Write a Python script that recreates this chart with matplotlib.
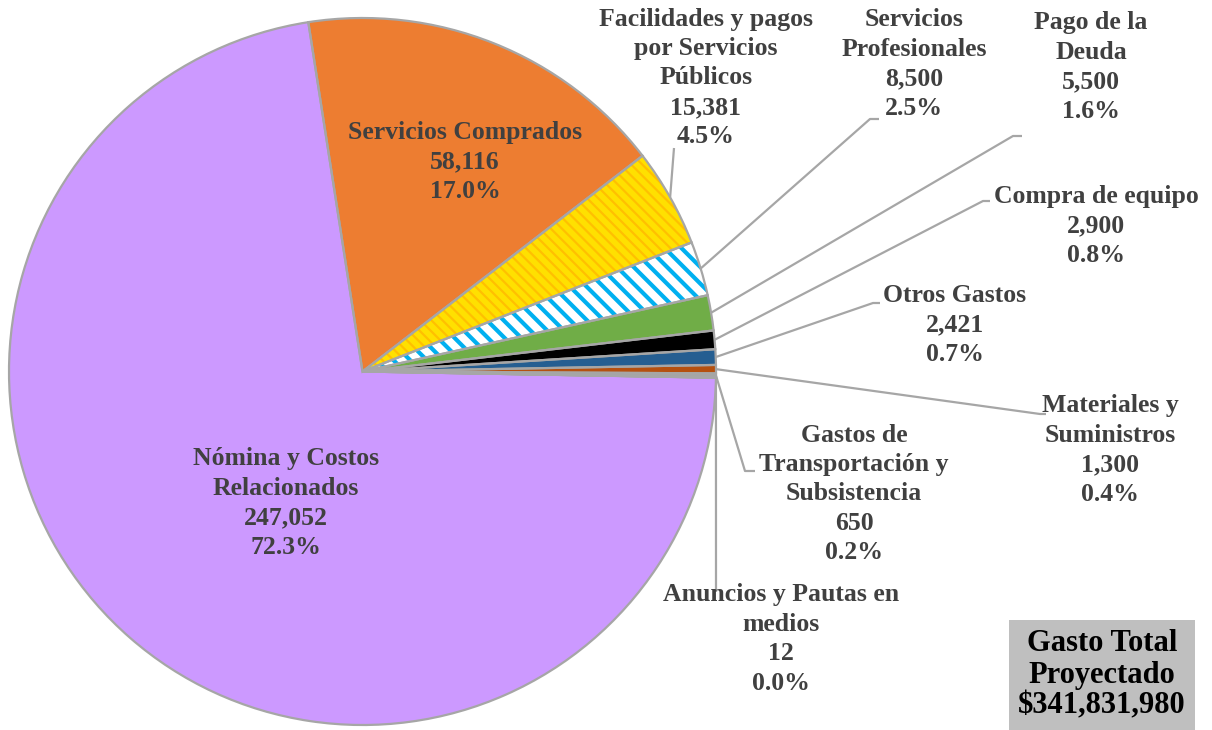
import matplotlib
matplotlib.use("Agg")
import matplotlib.pyplot as plt
import numpy as np

# ---------------- data ----------------
categories = [
    "Nómina y Costos\nRelacionados",
    "Servicios Comprados",
    "Facilidades y pagos\npor Servicios\nPúblicos",
    "Servicios\nProfesionales",
    "Pago de la\nDeuda",
    "Compra de equipo",
    "Otros Gastos",
    "Materiales y\nSuministros",
    "Gastos de\nTransportación y\nSubsistencia",
    "Anuncios y Pautas en\nmedios",
]
values = [247052, 58116, 15381, 8500, 5500, 2900, 2421, 1300, 650, 12]
total_label = "Gasto Total\nProyectado\n$341,831,980"

# ---------------- styles ----------------
face_colors = ["#CC99FF", "#ED7D31", "#FFE000", "#FFFFFF", "#70AD47",
               "#000000", "#255E91", "#B5500F", "#A5A5A5", "#7F7F7F"]
hatch_styles = [None, None, "\\\\\\", "\\\\", None, None, None, None, None, None]
hatch_colors = [None, None, "#FFC000", "#00B0F0", None, None, None, None, None, None]
hatch_widths = [None, None, 1.6, 3.0, None, None, None, None, None, None]

W, H = 1212, 730
fig = plt.figure(figsize=(W / 100, H / 100), dpi=100)
ax = fig.add_axes([0, 0, 1, 1])

def P(x, y):
    return (x, H - y)

center = P(362.5, 371.5)
radius = 353.5
startangle = 359.0

# fill layer (with hatches)
wedges, _ = ax.pie(values, colors=face_colors, startangle=startangle, counterclock=False,
                   center=center, radius=radius, wedgeprops=dict(linewidth=0))
for w, h, hc, hw in zip(wedges, hatch_styles, hatch_colors, hatch_widths):
    if h:
        w.set_hatch(h)
        w.set_edgecolor(hc)
        if hasattr(w, "set_hatch_linewidth"):
            w.set_hatch_linewidth(hw)
        else:
            w._hatch_linewidth = hw
    else:
        w.set_edgecolor(w.get_facecolor())

# outline layer
ax.pie(values, startangle=startangle, counterclock=False, center=center, radius=radius,
       wedgeprops=dict(fill=False, edgecolor="#A6A6A6", linewidth=1.6))

total = sum(values)
label_pos = [(286, 503), (465, 162), (706, 78), (914, 64), (1091, 67),
             (1096, 226), (955, 325), (1110, 450), (854, 494), (781, 639)]
leader_pts = [
    None,
    None,
    [(674, 148)],
    [(870, 119), (879, 119)],
    [(1013, 136), (1022, 136)],
    [(983, 201), (990, 201)],
    [(873, 303), (880, 303)],
    [(1040, 414), (1046, 414)],
    [(745, 471), (755, 471)],
    [(716, 592)],
]

txt_color = "#404040"
font = dict(family="Liberation Serif", weight="bold", size=18.5)

for w, cat, v, pos, pts in zip(wedges, categories, values, label_pos, leader_pts):
    pct = 100 * v / total
    s = f"{cat}\n{v:,}\n{pct:.1f}%"
    ax.text(*P(*pos), s, ha="center", va="center", color=txt_color,
            linespacing=1.36, **font)
    if pts:
        mid = np.deg2rad((w.theta1 + w.theta2) / 2)
        x0 = center[0] + radius * np.cos(mid)
        y0 = center[1] + radius * np.sin(mid)
        xs = [x0] + [p[0] for p in pts]
        ys = [y0] + [H - p[1] for p in pts]
        ax.plot(xs, ys, color="#A6A6A6", lw=1.6, solid_capstyle="butt", zorder=0.5)

ax.text(*P(1102, 675), total_label, ha="center", va="center", color="black",
        family="Liberation Serif", weight="bold", size=22, linespacing=1.1,
        bbox=dict(boxstyle="square,pad=0.3", facecolor="#BFBFBF", edgecolor="none"))

ax.set_xlim(0, W)
ax.set_ylim(0, H)
ax.set_aspect("auto")
ax.axis("off")
fig.savefig("out.png", dpi=100)
